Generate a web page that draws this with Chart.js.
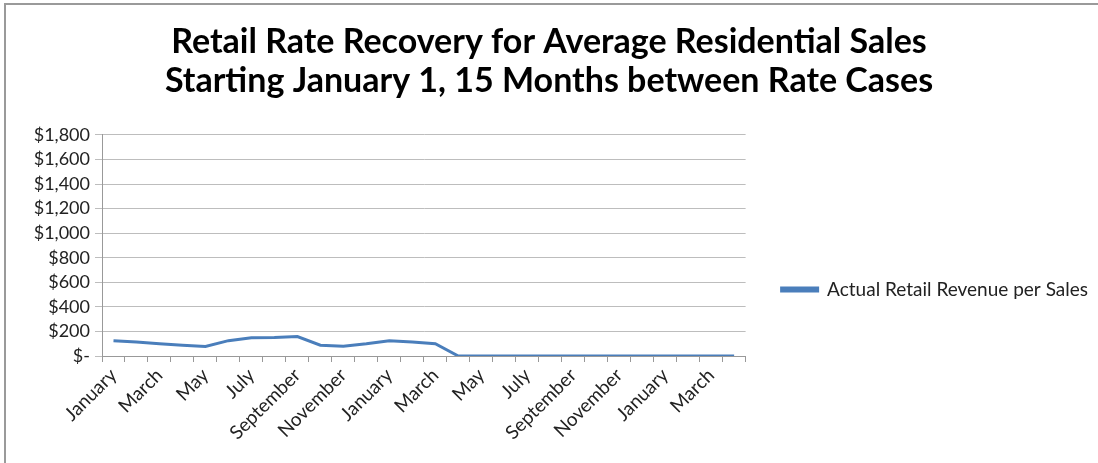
<!DOCTYPE html>
<html>
<head>
<meta charset="utf-8">
<script src="https://cdn.jsdelivr.net/npm/chart.js@4/dist/chart.umd.min.js"></script>
<style>
html,body{margin:0;padding:0;background:#fff;}
#wrap{width:1098px;height:463px;position:relative;}
</style>
</head>
<body>
<div id="wrap"><canvas id="c" width="1098" height="463"></canvas></div>
<script>
const categories = [
  "January","February","March","April","May","June","July","August","September","October","November","December",
  "January","February","March","April","May","June","July","August","September","October","November","December",
  "January","February","March","April"
];
const seriesName = "Actual Retail Revenue per Sales";
const revenue = [125,115,100,88,78,125,148,150,158,88,80,100,125,115,100,0,0,0,0,0,0,0,0,0,0,0,0,0];
const yTicks = [0,200,400,600,800,1000,1200,1400,1600,1800];
const titleLines = ["Retail Rate Recovery for Average Residential Sales","Starting January 1, 15 Months between Rate Cases"];

const FONT = "Lato, 'Open Sans', sans-serif";

const frame = {
  id: 'frame',
  beforeDraw(chart){
    const ctx = chart.ctx;
    ctx.save();
    ctx.fillStyle = '#fff';
    ctx.fillRect(0,0,chart.width,chart.height);
    ctx.strokeStyle = '#9a9a9a';
    ctx.lineWidth = 2;
    ctx.strokeRect(5,4,1200,600);
    ctx.restore();
  }
};

function build(){
  new Chart(document.getElementById('c'), {
    type: 'line',
    data: {
      labels: categories,
      datasets: [{
        label: seriesName,
        data: revenue,
        borderColor: '#4a7ebb',
        backgroundColor: '#4a7ebb',
        borderWidth: 3,
        pointRadius: 0,
        tension: 0,
        fill: false
      }]
    },
    options: {
      responsive: false,
      animation: false,
      devicePixelRatio: 1,
      layout: { padding: { left: 0, right: 0, top: 0, bottom: 0 } },
      plugins: {
        title: {
          display: true,
          text: titleLines,
          color: '#000',
          font: { family: FONT, size: 34, weight: 'bold', lineHeight: 1.147 },
          padding: { top: 23, bottom: 34 }
        },
        legend: {
          display: true,
          position: 'right',
          maxWidth: 420,
          title: { display: true, text: '', font: { size: 1 }, padding: { top: 115, bottom: 0 } },
          labels: {
            color: '#222',
            font: { family: FONT, size: 19 },
            boxWidth: 36,
            boxHeight: 3,
            padding: 36
          }
        },
        tooltip: { enabled: false }
      },
      scales: {
        x: {
          type: 'category',
          offset: true,
          afterFit: function(axis){ axis.height = 107; },
          grid: { display: true, drawOnChartArea: false, drawTicks: true, tickLength: 6, offset: true, color: '#999' },
          border: { display: true, color: '#999', width: 1 },
          ticks: {
            autoSkip: false,
            maxRotation: 45,
            minRotation: 45,
            color: '#222',
            font: { family: FONT, size: 19 },
            padding: 2,
            callback: function(v, i){ return i % 2 === 0 ? categories[i] : ''; }
          }
        },
        y: {
          min: 0,
          max: 1800,
          afterFit: function(axis){ axis.width = 102; },
          afterBuildTicks: function(axis){ axis.ticks = yTicks.map(v => ({value: v})); },
          grid: { color: '#bdbdbd', lineWidth: 1, drawTicks: true, tickLength: 7 },
          border: { display: true, color: '#999', width: 1 },
          ticks: {
            autoSkip: false,
            color: '#222',
            font: { family: FONT, size: 18 },
            padding: 5,
            callback: function(v){ return v === 0 ? '$-' : '$' + v.toLocaleString('en-US'); }
          }
        }
      }
    },
    plugins: [frame]
  });
}

Promise.all([
  document.fonts.load("18px Lato"),
  document.fonts.load("19px Lato"),
  document.fonts.load("bold 34px Lato")
]).then(build, build);
</script>
</body>
</html>
